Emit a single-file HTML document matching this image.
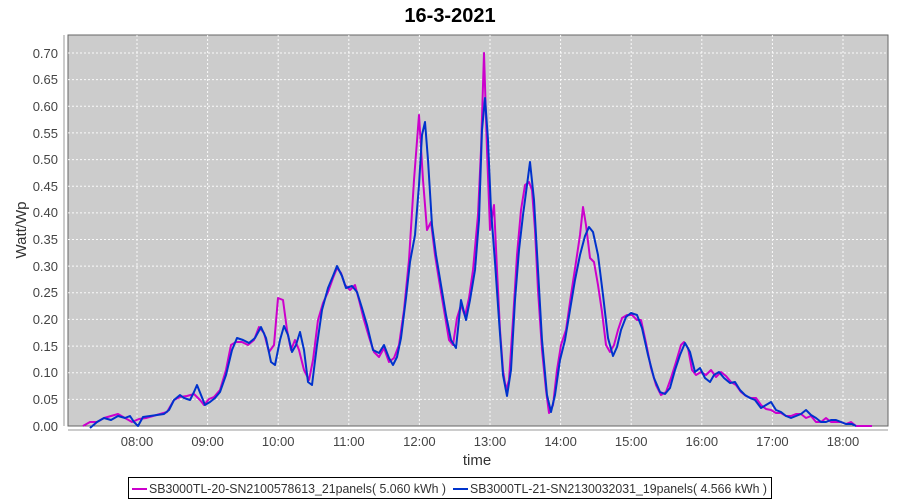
<!DOCTYPE html>
<html><head><meta charset="utf-8"><style>
body{margin:0;background:#fff;}
svg{display:block;font-family:"Liberation Sans",sans-serif;}
</style></head><body>
<svg width="900" height="500" viewBox="0 0 900 500">
<text x="450" y="22" text-anchor="middle" font-size="20" font-weight="bold" fill="#000">16-3-2021</text>
<rect x="68" y="35" width="820" height="391" fill="#cccccc" stroke="#666" stroke-width="1"/>
<g stroke="#fff" stroke-dasharray="2,2" stroke-width="1" opacity="0.9">
<line x1="68" x2="888" y1="399.4" y2="399.4"/><line x1="68" x2="888" y1="372.7" y2="372.7"/>
<line x1="68" x2="888" y1="346.1" y2="346.1"/><line x1="68" x2="888" y1="319.4" y2="319.4"/>
<line x1="68" x2="888" y1="292.8" y2="292.8"/><line x1="68" x2="888" y1="266.1" y2="266.1"/>
<line x1="68" x2="888" y1="239.5" y2="239.5"/><line x1="68" x2="888" y1="212.9" y2="212.9"/>
<line x1="68" x2="888" y1="186.2" y2="186.2"/><line x1="68" x2="888" y1="159.6" y2="159.6"/>
<line x1="68" x2="888" y1="132.9" y2="132.9"/><line x1="68" x2="888" y1="106.3" y2="106.3"/>
<line x1="68" x2="888" y1="79.6" y2="79.6"/><line x1="68" x2="888" y1="53" y2="53"/>
<line y1="35" y2="426" x1="137" x2="137"/><line y1="35" y2="426" x1="207.6" x2="207.6"/>
<line y1="35" y2="426" x1="278.2" x2="278.2"/><line y1="35" y2="426" x1="348.8" x2="348.8"/>
<line y1="35" y2="426" x1="419.4" x2="419.4"/><line y1="35" y2="426" x1="490" x2="490"/>
<line y1="35" y2="426" x1="560.6" x2="560.6"/><line y1="35" y2="426" x1="631.2" x2="631.2"/>
<line y1="35" y2="426" x1="701.8" x2="701.8"/><line y1="35" y2="426" x1="772.4" x2="772.4"/>
<line y1="35" y2="426" x1="843" x2="843"/>
</g>
<line x1="64" y1="35" x2="64" y2="426" stroke="#999"/>
<line x1="68" y1="430" x2="888" y2="430" stroke="#999"/>
<g font-size="13" fill="#444" text-anchor="end">
<text x="58" y="431">0.00</text><text x="58" y="404">0.05</text><text x="58" y="377">0.10</text>
<text x="58" y="351">0.15</text><text x="58" y="324">0.20</text><text x="58" y="297">0.25</text>
<text x="58" y="271">0.30</text><text x="58" y="244">0.35</text><text x="58" y="217">0.40</text>
<text x="58" y="191">0.45</text><text x="58" y="164">0.50</text><text x="58" y="138">0.55</text>
<text x="58" y="111">0.60</text><text x="58" y="84">0.65</text><text x="58" y="58">0.70</text>
</g>
<g font-size="13" fill="#444" text-anchor="middle">
<text x="137" y="446">08:00</text><text x="207.6" y="446">09:00</text><text x="278.2" y="446">10:00</text>
<text x="348.8" y="446">11:00</text><text x="419.4" y="446">12:00</text><text x="490" y="446">13:00</text>
<text x="560.6" y="446">14:00</text><text x="631.2" y="446">15:00</text><text x="701.8" y="446">16:00</text>
<text x="772.4" y="446">17:00</text><text x="843" y="446">18:00</text>
</g>
<text x="477" y="465" text-anchor="middle" font-size="15" fill="#333">time</text>
<text transform="translate(26,230) rotate(-90)" text-anchor="middle" font-size="15" fill="#333">Watt/Wp</text>
<polyline fill="none" stroke="#cc00cc" stroke-width="2" stroke-linejoin="round" points="83,426 90,422 97,422 104,418 111,416 118,414 125,418 132,422 139,419 146,418 153,416 160,414 167,412 174,400 180,397 187,396 194,394 200,400 204,405 209,399 214,397 220,390 226,370 231,345 236,342 242,342 248,345 254,340 259,327 264,333 269,352 274,345 278,298 283,300 287,330 291,350 295,340 299,350 304,370 309,380 313,360 318,320 323,303 328,292 333,278 337,268 341,273 345,285 350,290 355,285 359,300 364,320 369,337 374,352 379,357 384,348 389,362 394,358 399,345 404,310 409,260 414,180 419,115 423,180 427,230 431,222 435,255 439,280 444,310 449,340 453,345 457,318 461,305 465,316 469,298 473,270 478,215 481,150 484,53 487,150 490,230 494,205 497,270 500,330 503,370 506,390 509,380 513,320 517,255 521,210 525,185 529,182 532,190 535,230 538,290 542,350 546,390 549,413 553,405 557,370 561,345 566,330 571,295 576,262 580,235 583,207 586,225 590,258 594,262 598,285 602,312 606,345 610,352 614,345 618,330 622,318 627,315 632,315 637,320 641,320 646,343 651,368 656,385 661,395 666,392 671,378 676,362 681,345 684,342 688,348 692,370 696,375 701,372 706,375 711,370 716,377 721,372 726,376 731,382 736,385 741,392 746,396 751,398 756,398 761,405 766,409 771,410 776,413 781,413 786,416 791,416 796,414 801,414 806,418 811,416 816,422 821,422 826,418 831,422 836,422 841,422 846,424 851,422 856,426 872,426"/>
<polyline fill="none" stroke="#0033cc" stroke-width="2" stroke-linejoin="round" points="90,428 97,422 104,418 111,420 118,416 125,418 130,416 134,422 138,426 143,417 150,416 157,415 164,414 169,410 174,400 180,395 184,398 190,400 194,392 197,385 201,395 205,405 210,402 215,398 220,392 226,375 232,350 237,338 243,340 249,343 255,338 261,327 266,338 271,362 275,365 280,340 284,326 288,335 292,352 296,345 300,332 304,350 308,382 312,385 317,345 322,310 328,288 333,276 337,266 342,276 346,288 352,286 357,292 362,308 367,325 373,350 379,353 384,345 389,358 393,365 397,357 401,338 406,298 410,262 415,235 419,185 422,135 425,122 428,160 432,225 436,255 441,285 446,315 451,340 456,348 461,300 466,320 470,300 475,270 479,220 482,130 485,98 488,140 491,210 495,262 499,320 503,375 507,396 511,370 515,300 519,250 523,215 527,185 530,162 534,200 538,270 542,340 547,395 551,412 555,395 560,360 565,340 570,310 575,280 580,255 585,236 589,227 593,232 598,255 603,295 608,338 613,356 617,347 621,330 626,317 631,313 637,315 642,328 648,355 654,378 660,392 665,394 670,388 675,370 680,355 685,343 690,352 695,372 700,368 705,378 710,382 714,375 719,372 724,378 730,383 735,382 740,390 745,395 750,398 755,400 761,408 766,405 771,402 776,410 781,412 786,416 791,418 796,416 801,414 806,410 811,415 816,418 821,422 826,422 831,420 836,420 841,422 846,424 852,424 856,426"/>
<rect x="128.5" y="477.5" width="643" height="21" fill="#fff" stroke="#000"/>
<line x1="132" y1="489" x2="147" y2="489" stroke="#cc00cc" stroke-width="2"/>
<text x="149" y="493" font-size="13" fill="#333" textLength="297" lengthAdjust="spacingAndGlyphs">SB3000TL-20-SN2100578613_21panels( 5.060 kWh  )</text>
<line x1="453" y1="489" x2="468" y2="489" stroke="#0033cc" stroke-width="2"/>
<text x="470" y="493" font-size="13" fill="#333" textLength="297" lengthAdjust="spacingAndGlyphs">SB3000TL-21-SN2130032031_19panels( 4.566 kWh  )</text>
</svg>
</body></html>
